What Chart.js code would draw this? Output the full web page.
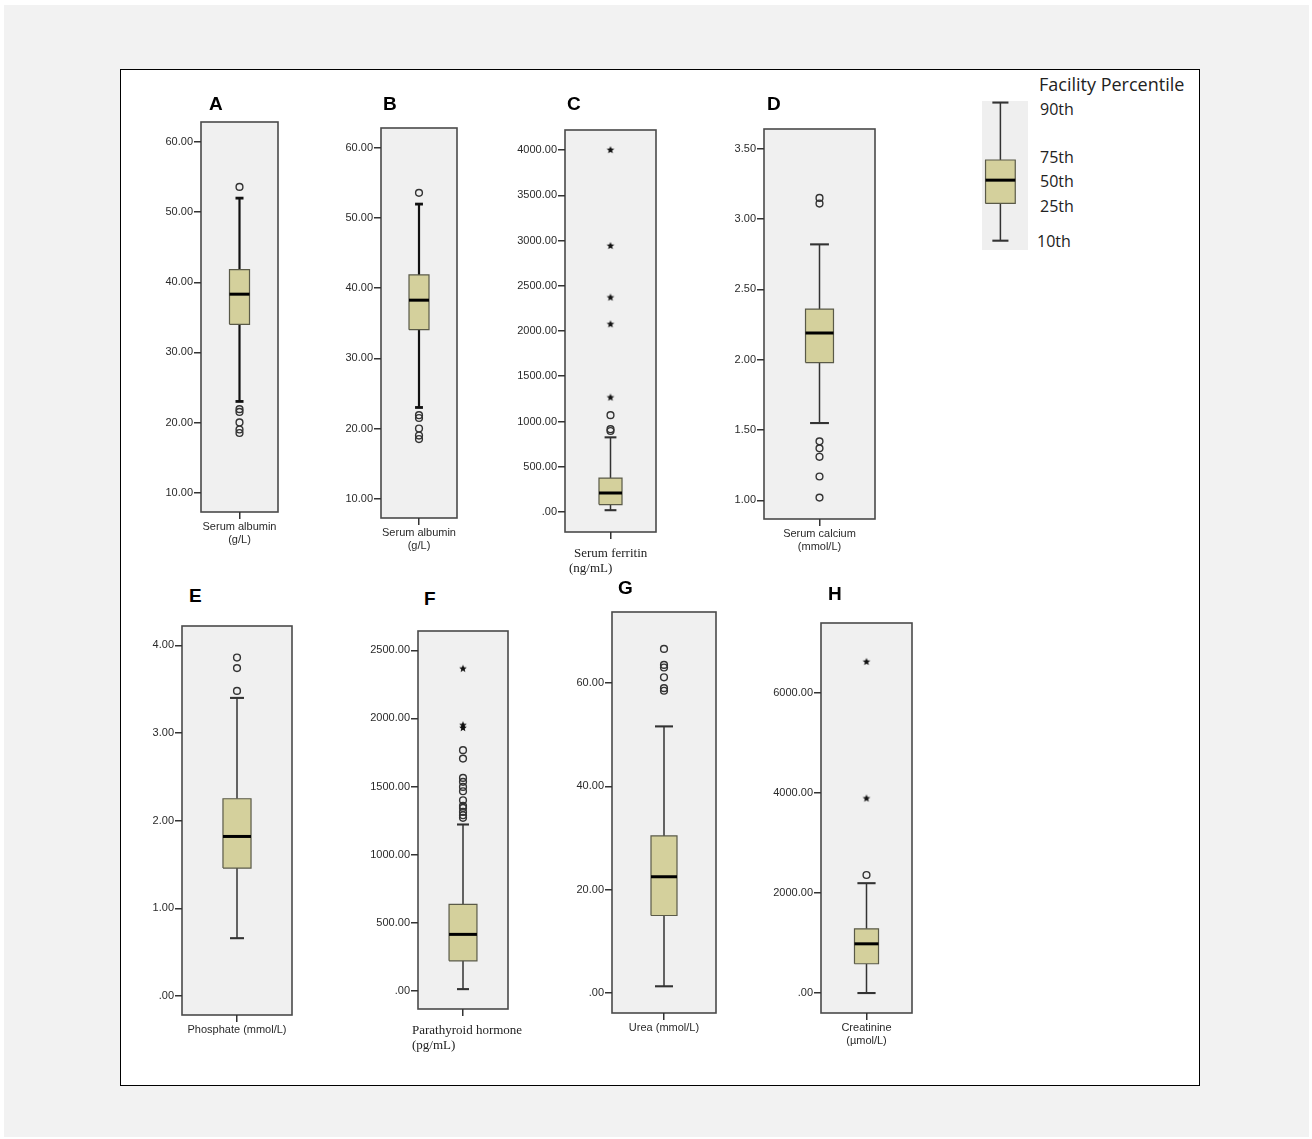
<!DOCTYPE html>
<html>
<head>
<meta charset="utf-8">
<script src="https://cdn.jsdelivr.net/npm/chart.js@4.4.1/dist/chart.umd.min.js"></script>
<style>
  body { margin: 0; width: 1312px; height: 1139px; position: relative; overflow: hidden; background: #fff; }
  #bg { position: absolute; left: 4px; top: 5px; width: 1305px; height: 1132px; background: #f2f2f2; }
  #frame { position: absolute; left: 120px; top: 69px; width: 1078px; height: 1015px; border: 1px solid #000; background: #fff; }
  canvas { position: absolute; }
  .letter { position: absolute; font: bold 19px "Liberation Sans", Arial, sans-serif; line-height: 20px; color: #000; }
  .serif { position: absolute; font: 13px "Liberation Serif", "Times New Roman", serif; line-height: 15px; color: #222; white-space: nowrap; }
  .leg { position: absolute; font: 16px "Open Sans", Lato, sans-serif; line-height: 20px; color: #222; white-space: nowrap; }
  .legtitle { font-size: 18px; }
</style>
</head>
<body>
<div id="bg"></div>
<div id="frame"></div>

<script>
// ---- data ----
const PANELS = ['A', 'B', 'C', 'D', 'E', 'F', 'G', 'H'];
const X_LABELS = [
  ['Serum albumin', '(g/L)'],
  ['Serum albumin', '(g/L)'],
  ['Serum ferritin', '(ng/mL)'],
  ['Serum calcium', '(mmol/L)'],
  ['Phosphate (mmol/L)'],
  ['Parathyroid hormone', '(pg/mL)'],
  ['Urea (mmol/L)'],
  ['Creatinine', '(µmol/L)']
];
const P10    = [23.0, 23.0, 20,  1.55, 0.66, 12,  1.3,  0];
const Q1     = [34.0, 34.1, 82,  1.98, 1.46, 220, 15.0, 585];
const MEDIAN = [38.3, 38.3, 210, 2.19, 1.82, 414, 22.5, 984];
const Q3     = [41.8, 41.9, 375, 2.36, 2.25, 634, 30.4, 1283];
const P90    = [52.0, 52.0, 825, 2.82, 3.40, 1221, 51.6, 2196];
const OUTLIERS = [
  [53.6, 21.9, 21.5, 20.0, 19.0, 18.5],
  [53.6, 21.9, 21.5, 20.0, 19.0, 18.5],
  [1070, 915, 895],
  [3.15, 3.11, 1.42, 1.37, 1.31, 1.17, 1.02],
  [3.86, 3.74, 3.48],
  [1767, 1705, 1563, 1534, 1497, 1465, 1399, 1357, 1343, 1313, 1289, 1270],
  [66.6, 63.5, 63.0, 61.1, 59.0, 58.5],
  [2360]
];
const EXTREMES = [
  [], [],
  [4000, 2940, 2370, 2075, 1265],
  [], [],
  [2365, 1950, 1930],
  [],
  [6620, 3890]
];
const Y_TICKS = [
  [10, 20, 30, 40, 50, 60],
  [10, 20, 30, 40, 50, 60],
  [0, 500, 1000, 1500, 2000, 2500, 3000, 3500, 4000],
  [1.0, 1.5, 2.0, 2.5, 3.0, 3.5],
  [0, 1, 2, 3, 4],
  [0, 500, 1000, 1500, 2000, 2500],
  [0, 20, 40, 60],
  [0, 2000, 4000, 6000]
];
const Y_MIN = [7.23, 7.24, -221, 0.868, -0.216, -134, -3.87, -399];
const Y_MAX = [62.86, 62.85, 4221, 3.64, 4.22, 2642, 73.74, 7397];

// legend (schematic box)
const LEGEND_LABELS = ['10th', '25th', '50th', '75th', '90th'];
const LEGEND_VALUES = [1.0, 3.4, 4.9, 6.2, 9.9];

// ---- layout / style (plot-area rectangles in page pixels) ----
const YW = 60, XH = 48, PT = 10, PR = 8;
const LAYOUT = [
  { l: 201, t: 122, w: 77,  h: 390, hw: 0.26,  cap: 0.104, lw: 2.2, lc: '#111' },
  { l: 381, t: 128, w: 76,  h: 390, hw: 0.263, cap: 0.104, lw: 2.2, lc: '#111' },
  { l: 565, t: 130, w: 91,  h: 402, hw: 0.253, cap: 0.13,  lw: 1.5, lc: '#333', serif: true },
  { l: 764, t: 129, w: 111, h: 390, hw: 0.252, cap: 0.17,  lw: 1.5, lc: '#333' },
  { l: 182, t: 626, w: 110, h: 389, hw: 0.255, cap: 0.127, lw: 1.5, lc: '#333' },
  { l: 418, t: 631, w: 90,  h: 378, hw: 0.31,  cap: 0.133, lw: 1.5, lc: '#333', serif: true },
  { l: 612, t: 612, w: 104, h: 401, hw: 0.25,  cap: 0.173, lw: 1.5, lc: '#333' },
  { l: 821, t: 623, w: 91,  h: 390, hw: 0.264, cap: 0.2,   lw: 1.5, lc: '#333' }
];
const LETTER_POS = [[209, 104], [383, 104], [567, 104], [767, 104], [189, 596], [424, 599], [618, 588], [828, 594]];
const BOX_FILL = '#d4d09c';

const plotFrame = {
  id: 'plotFrame',
  beforeDraw(chart, args, opts) {
    const { left, top, width, height } = chart.chartArea;
    const ctx = chart.ctx;
    ctx.save();
    ctx.fillStyle = opts.bg || '#f0f0f0';
    ctx.fillRect(left, top, width, height);
    if (opts.border) {
      ctx.strokeStyle = opts.border;
      ctx.lineWidth = 1.6;
      ctx.strokeRect(left, top, width, height);
    }
    ctx.restore();
  }
};

function starImage(r) {
  const c = document.createElement('canvas');
  c.width = c.height = Math.ceil(2 * r + 2);
  const x = c.getContext('2d');
  const m = c.width / 2;
  x.fillStyle = '#111';
  x.beginPath();
  for (let k = 0; k < 10; k++) {
    const a = -Math.PI / 2 + k * Math.PI / 5;
    const rr = k % 2 ? r * 0.45 : r;
    x.lineTo(m + rr * Math.cos(a), m + rr * Math.sin(a));
  }
  x.closePath();
  x.fill();
  return c;
}
const STAR = starImage(4);

function fmtTick(v) {
  if (v === 0) return '.00';
  return v.toFixed(2);
}

function lineSet(label, pts, color, width, order) {
  return { label, data: pts, borderColor: color, borderWidth: width, pointRadius: 0, pointHoverRadius: 0, fill: false, order };
}

function boxDatasets(lo, q1, med, q3, hi, hw, cap, lw, lc) {
  return [
    lineSet('median', [{ x: -hw, y: med }, { x: hw, y: med }], '#000', 3, 0),
    {
      label: 'box',
      data: [{ x: -hw, y: q1 }, { x: hw, y: q1 }, { x: hw, y: q3 }, { x: -hw, y: q3 }, { x: -hw, y: q1 }],
      borderColor: '#5a5a48', borderWidth: 1.2, backgroundColor: BOX_FILL, fill: 'shape',
      pointRadius: 0, pointHoverRadius: 0, order: 2
    },
    lineSet('upper whisker', [{ x: 0, y: q3 }, { x: 0, y: hi }], lc, lw, 3),
    lineSet('lower whisker', [{ x: 0, y: lo }, { x: 0, y: q1 }], lc, lw, 3),
    lineSet('upper cap', [{ x: -cap, y: hi }, { x: cap, y: hi }], lc, lw + 0.6, 3),
    lineSet('lower cap', [{ x: -cap, y: lo }, { x: cap, y: lo }], lc, lw + 0.6, 3)
  ];
}

function addCanvas(left, top, w, h) {
  const c = document.createElement('canvas');
  c.width = w; c.height = h;
  c.style.left = left + 'px'; c.style.top = top + 'px';
  c.style.width = w + 'px'; c.style.height = h + 'px';
  document.body.appendChild(c);
  return c;
}

function addText(cls, text, left, cy, lh) {
  const d = document.createElement('div');
  d.className = cls;
  d.textContent = text;
  d.style.left = left + 'px';
  d.style.top = (cy - lh / 2) + 'px';
  document.body.appendChild(d);
}

PANELS.forEach((name, i) => {
  const L = LAYOUT[i];
  const cv = addCanvas(L.l - YW, L.t - PT, YW + L.w + PR, PT + L.h + XH);
  const ds = boxDatasets(P10[i], Q1[i], MEDIAN[i], Q3[i], P90[i], L.hw, L.cap, L.lw, L.lc);
  ds.push({
    label: 'outliers', data: OUTLIERS[i].map(v => ({ x: 0, y: v })), showLine: false,
    pointStyle: 'circle', pointRadius: 3.4, pointBorderWidth: 1.4, pointBorderColor: '#333',
    pointBackgroundColor: 'rgba(0,0,0,0)', order: 1
  });
  ds.push({
    label: 'extremes', data: EXTREMES[i].map(v => ({ x: 0, y: v })), showLine: false,
    pointStyle: STAR, pointRadius: 4, order: 1
  });

  new Chart(cv.getContext('2d'), {
    type: 'line',
    data: { datasets: ds },
    options: {
      responsive: false,
      animation: false,
      devicePixelRatio: 1,
      layout: { padding: { top: PT, right: PR, left: 0, bottom: 0 } },
      plugins: {
        legend: { display: false },
        tooltip: { enabled: false },
        plotFrame: { bg: '#f0f0f0', border: '#4a4a4a' }
      },
      scales: {
        x: {
          type: 'linear', min: -1, max: 1,
          afterBuildTicks: s => { s.ticks = [{ value: 0 }]; },
          afterFit: s => { s.height = XH; },
          border: { display: false },
          grid: { drawOnChartArea: false, drawTicks: true, tickLength: 7, color: '#333', lineWidth: 1.5 },
          ticks: {
            padding: 2, maxRotation: 0, autoSkip: false,
            color: '#2a2a2a', font: { family: 'Liberation Sans', size: 11, lineHeight: 1.15 },
            callback: () => L.serif ? '' : X_LABELS[i]
          }
        },
        y: {
          type: 'linear', min: Y_MIN[i], max: Y_MAX[i],
          afterBuildTicks: s => { s.ticks = Y_TICKS[i].map(v => ({ value: v })); },
          afterFit: s => { s.width = YW; },
          border: { display: false },
          grid: { drawOnChartArea: false, drawTicks: true, tickLength: 7, color: '#333', lineWidth: 1.5 },
          ticks: {
            padding: 1, autoSkip: false,
            color: '#2a2a2a', font: { family: 'Liberation Sans', size: 11 },
            callback: v => fmtTick(v)
          }
        }
      }
    },
    plugins: [plotFrame]
  });

  addText('letter', name, LETTER_POS[i][0], LETTER_POS[i][1], 20);
});

// serif axis captions for C and F
addText('serif', X_LABELS[2][0], 574, 552, 15);
addText('serif', X_LABELS[2][1], 569, 567, 15);
addText('serif', X_LABELS[5][0], 412, 1029, 15);
addText('serif', X_LABELS[5][1], 412, 1044, 15);

// ---- legend ----
(function () {
  const cv = addCanvas(982, 101, 46, 149);
  const v = LEGEND_VALUES;
  const ds = boxDatasets(v[0], v[1], v[2], v[3], v[4], 0.646, 0.35, 1.5, '#333');
  new Chart(cv.getContext('2d'), {
    type: 'line',
    data: { datasets: ds },
    options: {
      responsive: false,
      animation: false,
      devicePixelRatio: 1,
      layout: { padding: 0 },
      plugins: { legend: { display: false }, tooltip: { enabled: false }, plotFrame: { bg: '#efefef' } },
      scales: {
        x: { type: 'linear', display: false, min: -0.8, max: 1.2 },
        y: { type: 'linear', display: false, min: 0.4, max: 10.0 }
      }
    },
    plugins: [plotFrame]
  });
  addText('leg legtitle', 'Facility Percentile', 1039, 84, 20);
  const LEG_Y = [241, 206, 181, 157, 109];
  const LEG_X = [1037, 1040, 1040, 1040, 1040];
  LEGEND_LABELS.forEach((t, k) => addText('leg', t, LEG_X[k], LEG_Y[k], 20));
})();
</script>
</body>
</html>
